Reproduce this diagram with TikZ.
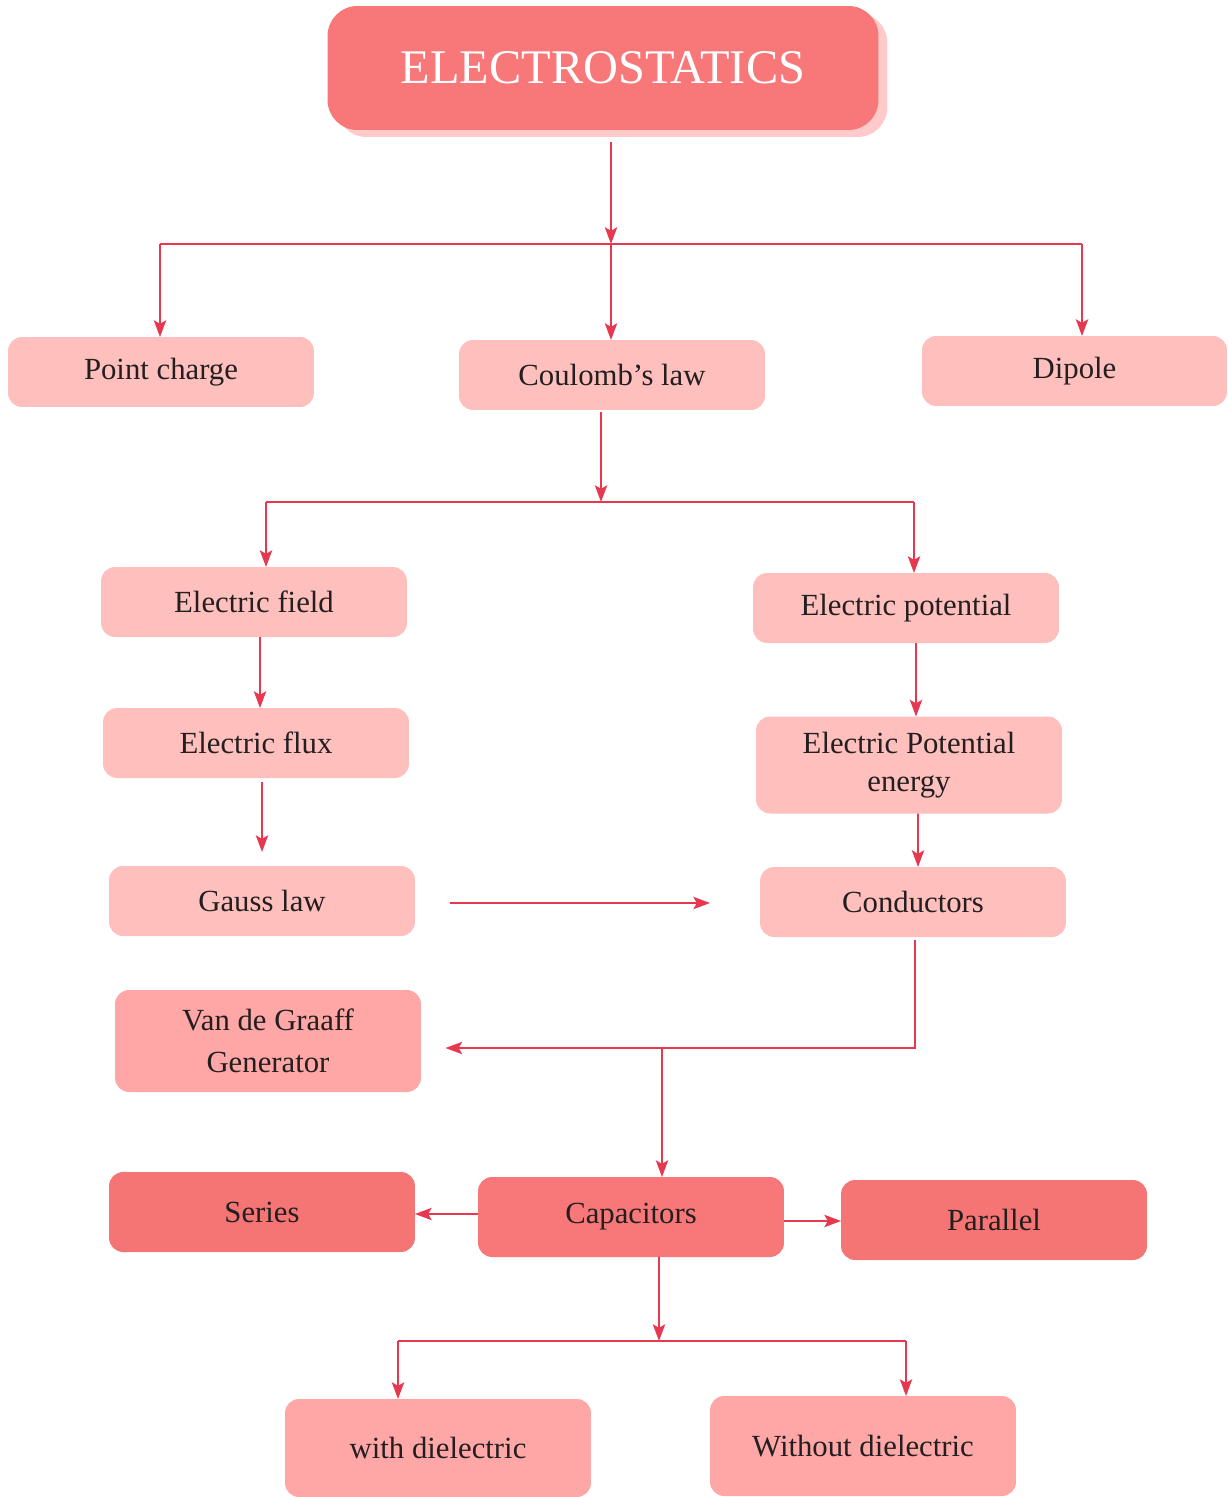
\documentclass[tikz,border=0pt]{standalone}
\usepackage{fontspec}
\setmainfont{Liberation Serif}
\usepackage{tikz}
\usepackage{xcolor}
\usetikzlibrary{positioning, arrows.meta, calc, shadows}
\definecolor{titlered}{RGB}{248,119,121}
\definecolor{titleshade}{RGB}{255,202,202}
\definecolor{lightpink}{RGB}{255,191,189}
\definecolor{midpink}{RGB}{255,166,166}
\definecolor{deeppink}{RGB}{245,116,116}
\definecolor{linkred}{RGB}{232,56,80}
\definecolor{boxtext}{RGB}{35,31,32}

\begin{document}
\begin{tikzpicture}[
  x=0.02cm, y=-0.02cm,
  topic/.style={
    rectangle, rounded corners=8pt, fill=lightpink, text=boxtext,
    minimum width=6.12cm, minimum height=1.4cm, align=center,
    font=\fontsize{17.5}{22}\selectfont, inner sep=4pt, outer sep=0pt
  },
  headline/.style={
    rectangle, rounded corners=17pt, fill=titlered, text=white,
    minimum width=11.02cm, minimum height=2.48cm,
    font=\fontsize{27.5}{32}\selectfont, outer sep=0pt,
    drop shadow={shadow xshift=0.18cm, shadow yshift=-0.14cm, fill=titleshade, opacity=1}
  },
  link/.style={draw=linkred, line width=1.1pt, -{Stealth[length=9.5pt, width=7pt, inset=2pt]}},
  branch/.style={draw=linkred, line width=1.1pt}
]
\useasboundingbox (0,0) rectangle (1227,1497);

\node[headline] (title) at (603,68) {ELECTROSTATICS};

% first level
\node[topic] (pc) at (161,372) {Point charge};
\node[topic] (cl) at (612,375) {Coulomb’s law};
\node[topic, minimum width=6.1cm] (dp) at (1074.5,371) {Dipole};

% field and potential
\node[topic] (ef) at (254,602) {Electric field};
\node[topic] (ep) at (906,608) {Electric potential};
\node[topic] (fl) at (256,743) {Electric flux};
\node[topic, minimum height=1.94cm] (pe) at (909,765) {Electric Potential\\energy};
\node[topic] (gl) at (262,901) {Gauss law};
\node[topic] (co) at (913,902) {Conductors};
\node[topic, fill=midpink, minimum height=2.04cm, font=\fontsize{17.5}{24}\selectfont] (vg) at (268,1041) {Van de Graaff\\Generator};

% capacitors
\node[topic, fill=deeppink, minimum height=1.6cm] (se) at (262,1212) {Series};
\node[topic, fill=titlered, minimum height=1.6cm] (ca) at (631,1217) {Capacitors};
\node[topic, fill=deeppink, minimum height=1.6cm] (pa) at (994,1220) {Parallel};
\node[topic, fill=midpink, minimum height=1.96cm] (wd) at (438,1448) {with dielectric};
\node[topic, fill=midpink, minimum height=2.0cm] (wo) at (863,1446) {Without dielectric};

% junctions
\coordinate (t0) at (611,142);
\coordinate (j1) at (611,244);
\coordinate (bl) at (160,244);
\coordinate (br) at (1082,244);
\coordinate (k1) at (601,502);
\coordinate (kl) at (266,502);
\coordinate (kr) at (914,502);
\coordinate (m2) at (662,1048);
\coordinate (n1) at (659,1341);
\coordinate (nl) at (398,1341);
\coordinate (nr) at (906,1341);

\draw[link] (t0) -- (j1);
\draw[branch] (bl) -- (br);
\draw[link] (bl) -- (bl |- pc.north);
\draw[link] (j1) -- (j1 |- cl.north);
\draw[link] (br) -- (br |- dp.north);

\draw[link] (cl.south -| k1) ++(0,2) -- (k1);
\draw[branch] (kl) -- (kr);
\draw[link] (kl) -- (kl |- ef.north);
\draw[link] (kr) -- (kr |- ep.north);

\draw[link] ([xshift=0.12cm]ef.south) -- ([xshift=0.08cm]fl.north);
\draw[link] ([xshift=0.2cm]ep.south) -- ([xshift=0.14cm]pe.north);
\draw[link] ([shift={(0.12cm,-0.08cm)}]fl.south) -- ([yshift=0.28cm]gl.north);
\draw[link] ([xshift=0.18cm]pe.south) -- ([xshift=0.1cm]co.north);
\draw[link] ([shift={(0.7cm,-0.04cm)}]gl.east) -- ([shift={(-1cm,-0.02cm)}]co.west);

\draw[link] ([shift={(0.04cm,-0.06cm)}]co.south) |- ([shift={(0.49cm,-0.14cm)}]vg.east);
\draw[link] (m2) -- (m2 |- ca.north);

\draw[link] ([yshift=0.06cm]ca.west) -- ([yshift=-0.04cm]se.east);
\draw[link] ([yshift=-0.08cm]ca.east) -- ([yshift=-0.02cm]pa.west);

\draw[link] ([xshift=0.56cm]ca.south) -- (n1);
\draw[branch] (nl) -- (nr);
\draw[link] (nl) -- (nl |- wd.north);
\draw[link] (nr) -- (nr |- wo.north);

\end{tikzpicture}
\end{document}
